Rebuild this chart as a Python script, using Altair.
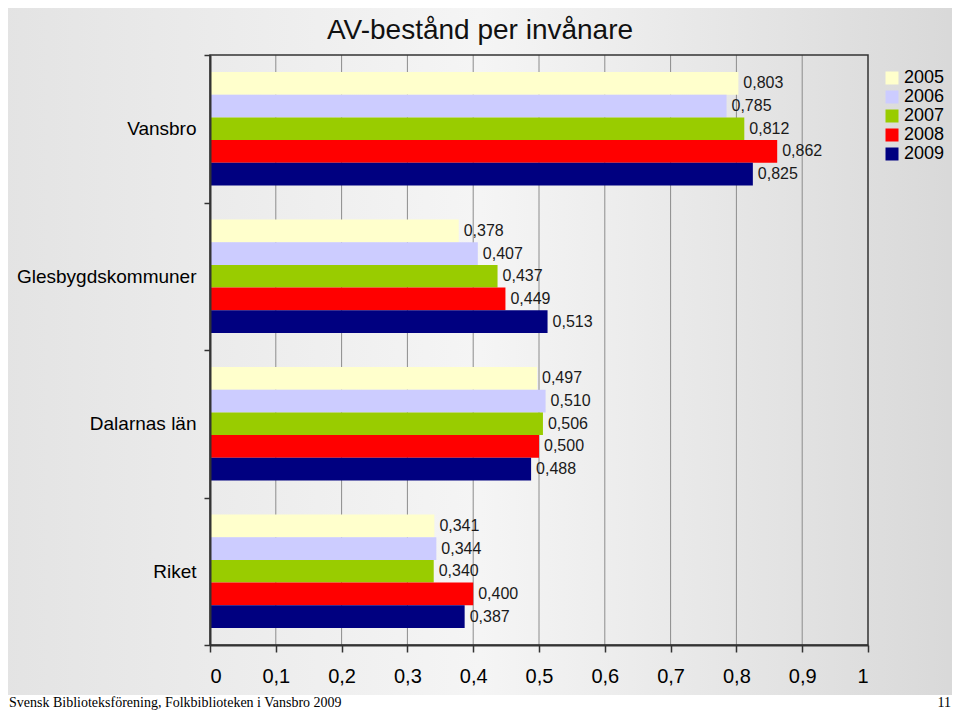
import altair as alt
import pandas as pd

categories = ["Vansbro", "Glesbygdskommuner", "Dalarnas län", "Riket"]
years = ["2005", "2006", "2007", "2008", "2009"]
colors = ["#FFFFCC", "#CCCCFF", "#99CC00", "#FF0000", "#000080"]

vansbro = [0.803, 0.785, 0.812, 0.862, 0.825]
glesbygd = [0.378, 0.407, 0.437, 0.449, 0.513]
dalarna = [0.497, 0.510, 0.506, 0.500, 0.488]
riket = [0.341, 0.344, 0.340, 0.400, 0.387]

x_ticks = [0, 0.1, 0.2, 0.3, 0.4, 0.5, 0.6, 0.7, 0.8, 0.9, 1]
grid_ticks = [0.1, 0.2, 0.3, 0.4, 0.5, 0.6, 0.7, 0.8, 0.9]

title_text = ["AV-bestånd per invånare"]
footer_left = ["Svensk Biblioteksförening, Folkbiblioteken i Vansbro 2009"]
footer_right = ["11"]

FONT = "Liberation Sans"
W, H = 658, 590

rows = []
for cat, vals in zip(categories, [vansbro, glesbygd, dalarna, riket]):
    for yr, v in zip(years, vals):
        rows.append({"category": cat, "year": yr, "value": v})
df = pd.DataFrame(rows)

xscale = alt.Scale(domain=[0, 1], nice=False, zero=True)
yscale = alt.Scale(paddingInner=0, paddingOuter=0)
yoff_scale = alt.Scale(paddingInner=0, paddingOuter=0.75)

xaxis = alt.Axis(title=None, values=x_ticks, grid=False,
                 labelExpr="replace(format(datum.value, '~g'), '.', ',')",
                 labelFontSize=20, labelFont=FONT, labelColor="#000",
                 tickSize=7, tickColor="#333", tickWidth=1.5,
                 domainColor="#333", domainWidth=2, labelPadding=14, zindex=1)

bg = alt.Chart(pd.DataFrame({"a": [1]})).mark_rect(
    color=alt.Gradient(
        gradient="linear", x1=0, y1=0, x2=1, y2=0,
        stops=[alt.GradientStop(offset=0, color="#e3e3e3"),
               alt.GradientStop(offset=0.5, color="#f5f5f5"),
               alt.GradientStop(offset=1, color="#d8d8d8")],
    )
).encode(x=alt.value(-215), x2=alt.value(755), y=alt.value(-60), y2=alt.value(640))

grid = alt.Chart(pd.DataFrame({"value": grid_ticks})).mark_rule(
    color="#8c8c8c", strokeWidth=1
).encode(
    x=alt.X("value:Q", scale=xscale, axis=xaxis),
    y=alt.value(0), y2=alt.value(H),
)

base = alt.Chart(df).encode(
    y=alt.Y("category:N", sort=categories, scale=yscale,
            axis=alt.Axis(title=None, labelFontSize=19, labelFont=FONT, labelColor="#000",
                          tickBand="extent", tickSize=6, tickColor="#333",
                          tickWidth=1.5, domainColor="#333", domainWidth=2, labelPadding=8,
                          zindex=1)),
    yOffset=alt.YOffset("year:N", sort=years, scale=yoff_scale),
    x=alt.X("value:Q", scale=xscale, axis=xaxis),
)

bars = base.mark_bar().encode(
    color=alt.Color("year:N", sort=years,
                    scale=alt.Scale(domain=years, range=colors),
                    legend=alt.Legend(title=None, orient="none", legendX=673, legendY=14,
                                      symbolType="square", symbolSize=169, symbolStrokeWidth=0,
                                      labelFontSize=18, labelFont=FONT, labelColor="#000",
                                      rowPadding=1, padding=0, labelOffset=3))
)

labels = base.transform_calculate(
    lab="replace(format(datum.value, '.3f'), '.', ',')"
).mark_text(align="left", baseline="middle", dx=5, fontSize=16, font=FONT, color="#1a1a1a").encode(
    text="lab:N"
)

frame = alt.Chart(pd.DataFrame({"a": [1]})).mark_rect(
    filled=False, stroke="#333", strokeWidth=1.5
).encode(x=alt.value(0), x2=alt.value(W), y=alt.value(0), y2=alt.value(H))

title = alt.Chart(pd.DataFrame({"t": title_text})).mark_text(
    align="center", baseline="alphabetic", fontSize=28, font=FONT, color="#111"
).encode(x=alt.value(270), y=alt.value(-16), text="t:N")

foot_l = alt.Chart(pd.DataFrame({"t": footer_left})).mark_text(
    align="left", baseline="alphabetic", fontSize=14, font="Liberation Serif", color="#000"
).encode(x=alt.value(-201), y=alt.value(652), text="t:N")

foot_r = alt.Chart(pd.DataFrame({"t": footer_right})).mark_text(
    align="right", baseline="alphabetic", fontSize=14, font="Liberation Serif", color="#000"
).encode(x=alt.value(741), y=alt.value(652), text="t:N")

chart = alt.layer(bg, grid, bars, labels, frame, title, foot_l, foot_r).properties(
    width=W, height=H,
    autosize=alt.AutoSizeParams(type="none"),
    padding={"left": 202, "top": 47, "right": 84, "bottom": 66},
).configure_view(stroke=None).configure(background="#ffffff")

chart.save("out.html", embed_options={"renderer": "svg", "actions": False})
